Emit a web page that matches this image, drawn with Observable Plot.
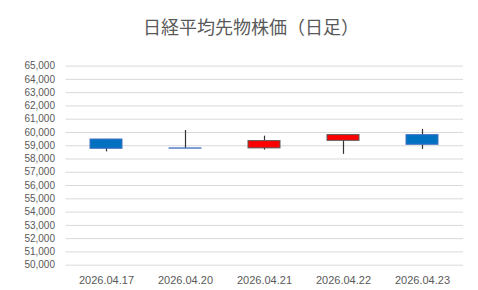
<!DOCTYPE html>
<html>
<head>
<meta charset="utf-8">
<script src="https://cdn.jsdelivr.net/npm/d3@7"></script>
<script src="https://cdn.jsdelivr.net/npm/@observablehq/plot@0.6"></script>
<style>
  html, body { margin: 0; padding: 0; background: #fff; }
  #wrap { width: 478px; height: 290px; position: relative; overflow: hidden; }
  #title { position: absolute; left: 0; top: 12px; width: 502px; text-align: center;
           font-family: "Noto Sans CJK JP", sans-serif; font-size: 18px; color: #595959; line-height: 28px; }
  #chart { position: absolute; left: 0; top: 48px; }
</style>
</head>
<body>
<div id="wrap">
  <div id="title">日経平均先物株価（日足）</div>
  <div id="chart"></div>
</div>
<script>
const dates = ["2026.04.17", "2026.04.20", "2026.04.21", "2026.04.22", "2026.04.23"];
const opens = [59470, 58800, 58800, 59370, 59800];
const closes = [58770, 58780, 59350, 59800, 59070];
const highs = [59480, 60150, 59720, 59800, 60230];
const lows = [58540, 58780, 58670, 58350, 58720];
const yTicks = d3.range(50000, 65001, 1000);

const data = dates.map((d, i) => ({date: d, open: opens[i], close: closes[i], high: highs[i], low: lows[i]}));

const chart = Plot.plot({
  width: 478,
  height: 242,
  marginLeft: 65.5,
  marginRight: 15,
  marginTop: 17.6,
  marginBottom: 25.3,
  style: {fontFamily: "Liberation Sans, Arial, sans-serif", fontSize: "10px", color: "#595959", background: "#fff"},
  x: {domain: dates, paddingInner: 0.6, paddingOuter: 0.3, align: 0.5},
  y: {domain: [50000, 65000]},
  marks: [
    Plot.ruleY(yTicks, {stroke: "#d9d9d9", strokeWidth: 1}),
    Plot.axisY({ticks: yTicks, tickFormat: d3.format(","), tickSize: 0, tickPadding: 11, label: null, fontSize: 10}),
    Plot.axisX({tickSize: 0, tickPadding: 11, label: null, fontSize: 11}),
    Plot.ruleX(data, {x: "date", y1: "low", y2: "high", stroke: "#333333", strokeWidth: 1.2}),
    Plot.barY(data, {
      x: "date", y1: "open", y2: "close",
      fill: d => d.close > d.open ? "#FF0000" : (Math.abs(d.close - d.open) < 50 ? "#4472C4" : "#0070C0"),
      stroke: d => d.close > d.open ? "#595959" : "#4472C4",
      strokeWidth: 1
    })
  ]
});
document.getElementById("chart").appendChild(chart);
</script>
</body>
</html>
